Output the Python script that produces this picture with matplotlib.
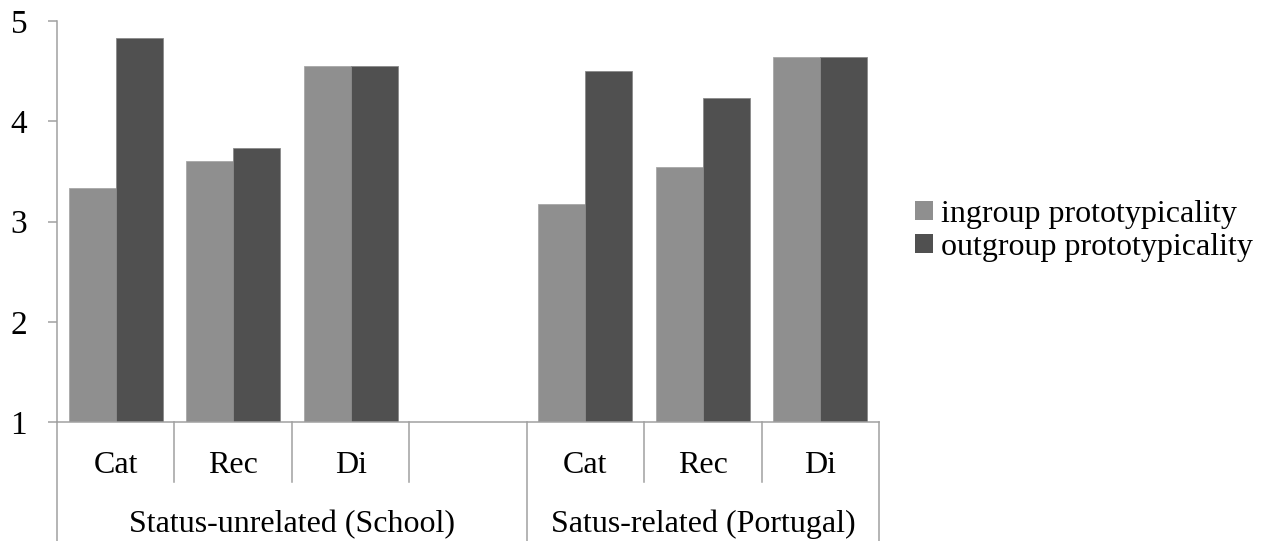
import matplotlib
matplotlib.use("Agg")
import matplotlib.pyplot as plt
import matplotlib.transforms as mtransforms
from matplotlib.patches import Patch
import numpy as np

plt.rcParams['font.family'] = ['Liberation Serif', 'DejaVu Serif']

# ---- data ----
categories = ["Cat", "Rec", "Di", "", "Cat", "Rec", "Di"]
groups = ["Status-unrelated (School)", "Satus-related (Portugal)"]
group_spans = [(0, 4), (4, 7)]
ingroup = [3.33, 3.60, 4.55, np.nan, 3.17, 3.54, 4.64]
outgroup = [4.83, 3.73, 4.55, np.nan, 4.50, 4.23, 4.64]
series_names = ["ingroup prototypicality", "outgroup prototypicality"]
yticks = [1, 2, 3, 4, 5]

c_in = "#8f8f8f"
c_out = "#505050"
axis_gray = "#a0a0a0"
FS = 23

W, H = 1270, 541
fig = plt.figure(figsize=(W / 100, H / 100), dpi=100)
left, right, top, bottom = 57, 879, 21, 422
ax = fig.add_axes([left / W, 1 - bottom / H, (right - left) / W, (bottom - top) / H])

x = np.arange(len(categories)) + 0.5
bw = 0.4
ax.bar(x - bw / 2, ingroup, width=bw, color=c_in, edgecolor="#a8a8a8", linewidth=0.6, label=series_names[0])
ax.bar(x + bw / 2, outgroup, width=bw, color=c_out, edgecolor="#8a8a8a", linewidth=0.6, label=series_names[1])

ax.set_xlim(0, len(categories))
ax.set_ylim(1, 5)
ax.set_yticks(yticks)
ax.set_yticklabels([str(t) for t in yticks], fontsize=FS + 1)
ax.tick_params(axis='y', length=6.5, width=1.1, color=axis_gray, pad=15)
ax.set_xticks([])

for s in ["top", "right"]:
    ax.spines[s].set_visible(False)
for s in ["left", "bottom"]:
    ax.spines[s].set_color(axis_gray)
    ax.spines[s].set_linewidth(1.1)

trans = mtransforms.blended_transform_factory(ax.transData, ax.transAxes)
ax_h = bottom - top
short_len = 60 / ax_h
full_len = 125 / ax_h

group_edges = set()
for a, b in group_spans:
    group_edges.add(a)
    group_edges.add(b)
for i in range(len(categories) + 1):
    ln = full_len if i in group_edges else short_len
    ax.plot([i, i], [0, -ln], transform=trans, color=axis_gray, lw=1.1, clip_on=False)

for xi, lab in zip(x, categories):
    if lab:
        ax.text(xi, -51 / ax_h, lab, transform=trans, ha='center', va='baseline', fontsize=FS)

for (a, b), g in zip(group_spans, groups):
    ax.text((a + b) / 2, -110 / ax_h, g, transform=trans, ha='center', va='baseline', fontsize=FS)

handles = [Patch(facecolor=c_in, edgecolor='none'), Patch(facecolor=c_out, edgecolor='none')]
fig.legend(handles, series_names, loc='center left', bbox_to_anchor=(915 / W, 1 - 231 / H),
           frameon=False, fontsize=FS, handlelength=0.55, handleheight=0.55,
           handletextpad=0.25, labelspacing=0.12, borderaxespad=0, borderpad=0)

fig.savefig("out.png", dpi=100)
